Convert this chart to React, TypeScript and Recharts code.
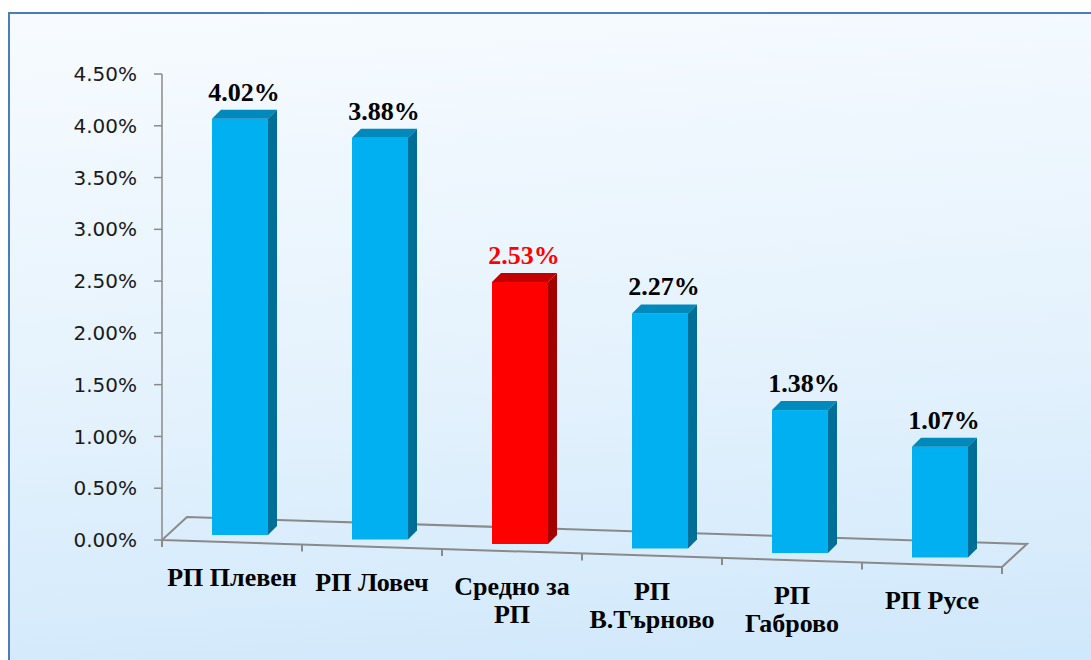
import React from "react";
import { Bar, BarChart, Customized, LabelList, XAxis, YAxis } from "recharts";

const categories = [
  "РП Плевен",
  "РП Ловеч",
  "Средно за РП",
  "РП В.Търново",
  "РП Габрово",
  "РП Русе"
];
const rates = [0.0402, 0.0388, 0.0253, 0.0227, 0.0138, 0.0107];
const averageCategory = "Средно за РП";
const yTicks = [0, 0.005, 0.01, 0.015, 0.02, 0.025, 0.03, 0.035, 0.04, 0.045];

const data = categories.map((name, i) => ({ name, rate: rates[i] }));

// layout (chart coordinates)
const W = 1081;
const H = 646;
const MARGIN = { top: 60, right: 89, bottom: 20, left: 52 };
const Y_AXIS_W = 100;
const X_AXIS_H = 100;
const PLOT_LEFT = MARGIN.left + Y_AXIS_W;
const PLOT_RIGHT = W - MARGIN.right;
const PLOT_BOTTOM = H - MARGIN.bottom - X_AXIS_H;

// fake perspective: the floor drops to the right
const SLOPE = 0.0321;
const FLOOR_DX = 25;
const FLOOR_DY = 23;
const BAR_SHIFT = 8;
const BAR_LIFT = 7.5;
const DEPTH = 9;

const SERIF = '"Liberation Serif", "Times New Roman", serif';
const SANS = '"DejaVu Sans", Verdana, sans-serif';

const floorY = (x: number) => PLOT_BOTTOM + (x - PLOT_LEFT) * SLOPE;

const fmtPct = (v: number) => `${(v * 100).toFixed(2)}%`;

const palette = {
  blue: { front: "#00b0f0", top: "#0089bb", side: "#006f98" },
  red: { front: "#ff0000", top: "#c20000", side: "#a30000" }
};

function Bar3D(props: any) {
  const { x, width, height, payload } = props;
  if (!width || height == null) return null;
  const c = payload.name === averageCategory ? palette.red : palette.blue;
  const fx = x + BAR_SHIFT;
  const bottom = floorY(fx + width / 2) - BAR_LIFT;
  const top = bottom - height;
  const r = fx + width;
  return (
    <g>
      <rect x={fx} y={top} width={width} height={height} fill={c.front} />
      <polygon
        points={`${fx},${top} ${fx + DEPTH},${top - DEPTH} ${r + DEPTH},${top - DEPTH} ${r},${top}`}
        fill={c.top}
      />
      <polygon
        points={`${r},${top} ${r + DEPTH},${top - DEPTH} ${r + DEPTH},${bottom - DEPTH} ${r},${bottom}`}
        fill={c.side}
      />
    </g>
  );
}

function ValueLabel(props: any) {
  const { x, width, height, value, index } = props;
  const fx = x + BAR_SHIFT;
  const top = floorY(fx + width / 2) - BAR_LIFT - height;
  const isAvg = categories[index] === averageCategory;
  return (
    <text
      x={fx + width / 2 + 4}
      y={top - 18}
      textAnchor="middle"
      fontFamily={SERIF}
      fontWeight="bold"
      fontSize={26}
      fill={isAvg ? "#ff0000" : "#000"}
    >
      {fmtPct(value)}
    </text>
  );
}

function wrapLabel(s: string) {
  if (s.length <= 9) return [s];
  const i = s.lastIndexOf(" ");
  return [s.slice(0, i), s.slice(i + 1)];
}

function CategoryTick(props: any) {
  const { x, payload } = props;
  const lines = wrapLabel(payload.value);
  return (
    <text
      x={x}
      y={floorY(x) + 44}
      textAnchor="middle"
      fontFamily={SERIF}
      fontWeight="bold"
      fontSize={26}
      fill="#000"
    >
      {lines.map((l, i) => (
        <tspan key={i} x={x} dy={i === 0 ? 0 : 28}>
          {l}
        </tspan>
      ))}
    </text>
  );
}

function Floor() {
  const fl = [PLOT_LEFT, floorY(PLOT_LEFT)];
  const fr = [PLOT_RIGHT, floorY(PLOT_RIGHT)];
  const br = [PLOT_RIGHT + FLOOR_DX, floorY(PLOT_RIGHT) - FLOOR_DY];
  const bl = [PLOT_LEFT + FLOOR_DX, floorY(PLOT_LEFT) - FLOOR_DY];
  const band = (PLOT_RIGHT - PLOT_LEFT) / categories.length;
  return (
    <g stroke="#8a8a8a" strokeWidth={2} fill="none">
      <polygon points={[fl, fr, br, bl].map((p) => p.join(",")).join(" ")} />
      {categories.concat([""]).map((_, i) => {
        const tx = PLOT_LEFT + band * i;
        return <line key={i} x1={tx} x2={tx} y1={floorY(tx)} y2={floorY(tx) + 7} />;
      })}
    </g>
  );
}

export default function App() {
  return (
    <div
      style={{
        position: "fixed",
        left: 8,
        top: 12,
        width: W + 2,
        height: H + 2,
        boxSizing: "border-box",
        borderTop: "2px solid #4a7ebb",
        borderLeft: "2px solid #4a7ebb",
        background: "linear-gradient(176deg, #f7fbff 0%, #e6f3fd 50%, #d0e8fb 100%)"
      }}
    >
      <BarChart width={W} height={H} data={data} margin={MARGIN} barSize={56}>
        <Customized component={<Floor />} />
        <XAxis
          dataKey="name"
          height={X_AXIS_H}
          axisLine={false}
          tickLine={false}
          interval={0}
          tick={<CategoryTick />}
        />
        <YAxis
          width={Y_AXIS_W}
          domain={[0, 0.045]}
          ticks={yTicks}
          tickFormatter={fmtPct}
          axisLine={{ stroke: "#8a8a8a", strokeWidth: 1.5 }}
          tickLine={{ stroke: "#8a8a8a", strokeWidth: 1.5 }}
          tickSize={8}
          tickMargin={17}
          tick={{ fill: "#1a1a1a", fontSize: 20, fontFamily: SANS }}
        />
        <Bar dataKey="rate" shape={<Bar3D />} isAnimationActive={false}>
          <LabelList dataKey="rate" content={<ValueLabel />} />
        </Bar>
      </BarChart>
    </div>
  );
}
